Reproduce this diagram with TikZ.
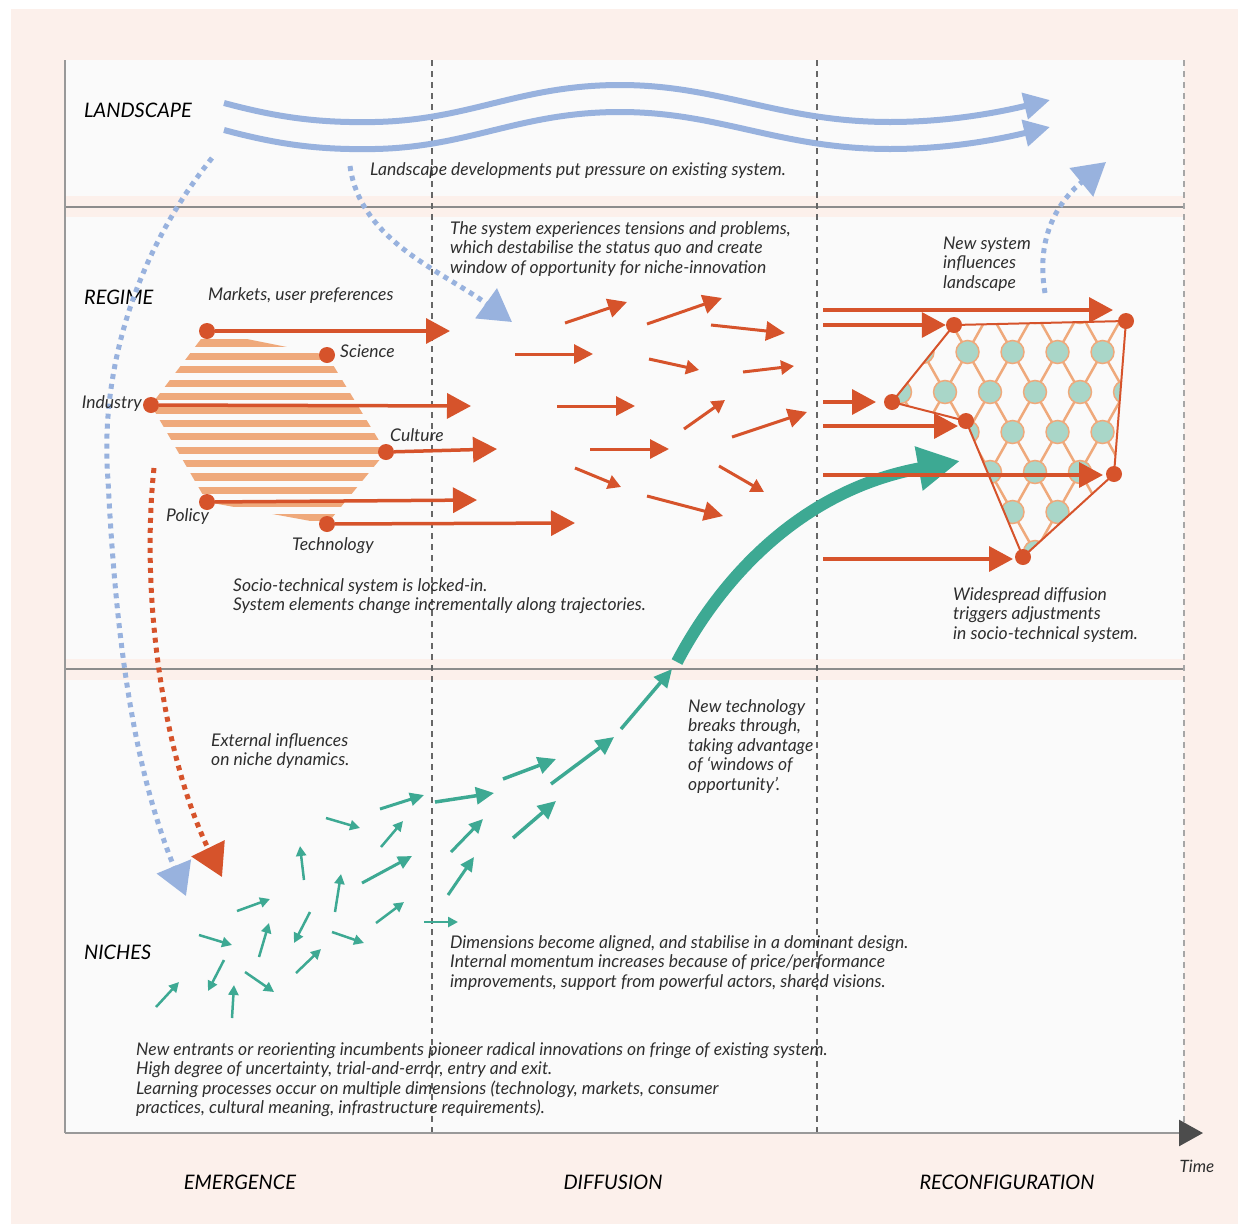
\documentclass[tikz,border=0pt]{standalone}
\usepackage{fontspec}
\setmainfont{Lato}
\usepackage{tikz}
\usetikzlibrary{arrows.meta,positioning,calc}

\definecolor{rust}{HTML}{D6532B}
\definecolor{peach}{HTML}{EFA97B}
\definecolor{skyblue}{HTML}{98B2DE}
\definecolor{seagreen}{HTML}{3DA993}
\definecolor{mint}{HTML}{A9D6C8}
\definecolor{blush}{HTML}{FCF0EB}
\definecolor{paper}{HTML}{FAFAFA}
\definecolor{ink}{HTML}{2E2E2E}

\tikzset{
  notetext/.style={anchor=base west, inner sep=0pt, align=left, text=ink, font=\fontsize{17.5}{19.5}\selectfont\itshape},
  levellabel/.style={anchor=base west, inner sep=0pt, text=black, font=\fontsize{20}{22}\selectfont\itshape},
  phaselabel/.style={inner sep=0pt, text=black, font=\fontsize{20}{22}\selectfont\itshape},
  rdot/.style={circle, fill=rust, inner sep=0pt, minimum size=16pt},
  bigred/.style={draw=rust, line width=3.5pt, -{Triangle[length=24pt,width=25pt]}},
  midred/.style={draw=rust, line width=3pt, -{Triangle[length=19pt,width=19pt]}},
  smallred/.style={draw=rust, line width=3pt, -{Triangle[length=13pt,width=14pt]}},
  bigteal/.style={draw=seagreen, line width=3.5pt, -{Triangle[length=18pt,width=17pt]}},
  midteal/.style={draw=seagreen, line width=3pt, -{Triangle[length=14pt,width=13pt]}},
  smallteal/.style={draw=seagreen, line width=2.5pt, -{Triangle[length=10pt,width=10pt]}},
  surge/.style={draw=seagreen, line width=12pt, -{Triangle[length=42pt,width=42pt]}},
  landwave/.style={draw=skyblue, line width=6pt, -{Triangle[length=26pt,width=26pt]}},
  bluedots/.style={draw=skyblue, line width=5pt, dash pattern=on 5pt off 5pt, -{Triangle[length=32pt,width=36pt]}},
  reddots/.style={draw=rust, line width=5pt, dash pattern=on 5pt off 5pt, -{Triangle[length=32pt,width=36pt]}},
  phaseline/.style={draw=black!60, line width=1.2pt, dash pattern=on 6pt off 5pt},
  lattice/.style={draw=peach, line width=2.5pt},
}

\begin{document}
\begin{tikzpicture}[x=1pt, y=-1pt]
\useasboundingbox (0,0) rectangle (1238,1224);
\fill[white] (0,0) rectangle (1238,1224);
\fill[blush] (11,9) rectangle (1238,1224);
\fill[paper] (65,60) rectangle (1184,1133);
\fill[blush] (65,196) rectangle (1184,217);
\fill[blush] (65,659) rectangle (1184,680);
\draw[black!45, line width=1.5pt] (65,207) -- (1184,207);
\draw[black!45, line width=1.5pt] (65,669) -- (1184,669);

\draw[phaseline] (432,60) -- (432,1133);
\draw[phaseline] (817,60) -- (817,1133);
\draw[phaseline, draw=black!35] (1184,60) -- (1184,1133);

\coordinate (topleft) at (65,60);
\coordinate (origin) at (65,1133);
\coordinate (timeend) at (1203,1133);
\draw[black!40, line width=2pt] (topleft) -- (origin);
\draw[black!40, line width=2.5pt, -{Triangle[length=24pt,width=26pt,color=black!70]}] (origin) -- (timeend);
\node[inner sep=0pt, text=ink, font=\fontsize{17}{19}\selectfont\itshape] (time) at (1197,1166) {Time};

\node[phaselabel] (emergence) at (240,1182) {EMERGENCE};
\node[phaselabel] (diffusion) at (613,1182) {DIFFUSION};
\node[phaselabel] (reconfig) at (1007,1182) {RECONFIGURATION};

\node[levellabel] (landscape) at (84,117) {LANDSCAPE};
\node[levellabel] (regime) at (84,304) {REGIME};
\node[levellabel] (niches) at (84,959) {NICHES};

\node[notetext] (pressure) at (370,175) {Landscape developments put pressure on existing system.};
\node[notetext] (tensions) at (450,273) {The system experiences tensions and problems,\\which destabilise the status quo and create\\window of opportunity for niche-innovation};
\node[notetext] (newsystem) at (943,288) {New system\\influences\\landscape};
\node[notetext] (markets) at (208,300) {Markets, user preferences};
\node[notetext] (lockedin) at (233,610.5) {Socio-technical system is locked-in.\\System elements change incrementally along trajectories.};
\node[notetext] (widespread) at (953,639) {Widespread diffusion\\triggers adjustments\\in socio-technical system.};
\node[notetext] (external) at (211,765.5) {External influences\\on niche dynamics.};
\node[notetext] (breaks) at (688,790) {New technology\\breaks through,\\taking advantage\\of ‘windows of\\opportunity’.};
\node[notetext] (aligned) at (450,987) {Dimensions become aligned, and stabilise in a dominant design.\\Internal momentum increases because of price/performance\\improvements, support from powerful actors, shared visions.};
\node[notetext] (entrants) at (136,1113.5) {New entrants or reorienting incumbents pioneer radical innovations on fringe of existing system.\\High degree of uncertainty, trial-and-error, entry and exit.\\Learning processes occur on multiple dimensions (technology, markets, consumer\\practices, cultural meaning, infrastructure requirements).};

\coordinate (wa1) at (224,103);
\coordinate (wa2) at (375,122);
\coordinate (wa3) at (620,85);
\coordinate (wa4) at (890,122);
\coordinate (wa5) at (1050,100);
\draw[landwave] (wa1) .. controls (280,118) and (320,123) .. (wa2) .. controls (470,120) and (520,85) .. (wa3) .. controls (720,85) and (780,122) .. (wa4) .. controls (950,122) and (1000,112) .. (wa5);
\coordinate (wb1) at (224,130);
\coordinate (wb2) at (375,149);
\coordinate (wb3) at (620,112);
\coordinate (wb4) at (890,149);
\coordinate (wb5) at (1050,127);
\draw[landwave] (wb1) .. controls (280,145) and (320,150) .. (wb2) .. controls (470,147) and (520,112) .. (wb3) .. controls (720,112) and (780,149) .. (wb4) .. controls (950,149) and (1000,139) .. (wb5);

\coordinate (hm) at (207,331);
\coordinate (hs) at (327,355);
\coordinate (hc) at (386,452);
\coordinate (ht) at (327,524);
\coordinate (hp) at (207,502);
\coordinate (hi) at (151,405);
\begin{scope}
  \clip (hm) -- (hs) -- (hc) -- (ht) -- (hp) -- (hi) -- cycle;
  \foreach \k in {-1,...,14}
    \fill[peach] (140,{343+13.4*\k-3.6}) rectangle (400,{343+13.4*\k+3.6});
\end{scope}

\coordinate (pnw) at (954,325);
\coordinate (pne) at (1126,321);
\coordinate (pse) at (1114,474);
\coordinate (ps) at (1023,557);
\coordinate (pin) at (966,421);
\coordinate (pw) at (892,402);
\begin{scope}
  \clip (pnw) -- (pne) -- (pse) -- (ps) -- (pin) -- (pw) -- cycle;
  \foreach \r in {0,...,6}
    \foreach \c in {-1,...,6} {
      \pgfmathsetmacro\hx{900+45*\c+22.5*mod(\r,2)}
      \pgfmathsetmacro\hy{312+40*\r}
      \draw[lattice] (\hx,\hy) -- ++(22.5,40) (\hx,\hy) -- ++(-22.5,40);
    }
  \foreach \r in {0,...,7}
    \foreach \c in {-1,...,6} {
      \pgfmathsetmacro\hx{900+45*\c+22.5*mod(\r,2)}
      \pgfmathsetmacro\hy{312+40*\r}
      \filldraw[fill=mint, draw=peach, line width=1.5pt] (\hx,\hy) circle (11.5);
    }
\end{scope}
\draw[rust, line width=2pt] (pnw) -- (pne) -- (pse) -- (ps) -- (pin) -- (pw) -- cycle;

\coordinate (bigstart) at (212,158);
\coordinate (bigmid) at (108,480);
\coordinate (bigtip) at (186,896);
\draw[bluedots] (bigstart) .. controls (130,260) and (100,380) .. (bigmid) .. controls (115,620) and (130,760) .. (bigtip);
\coordinate (pressstart) at (350,166);
\coordinate (presstip) at (512,322);
\draw[bluedots] (pressstart) .. controls (360,240) and (440,270) .. (presstip);
\coordinate (feedstart) at (1045,293);
\coordinate (feedtip) at (1106,162);
\draw[bluedots] (feedstart) .. controls (1035,235) and (1060,200) .. (feedtip);
\coordinate (regstart) at (154,468);
\coordinate (regtip) at (222,877);
\draw[reddots] (regstart) .. controls (140,600) and (165,760) .. (regtip);

\foreach \xa/\ya/\xb/\yb [count=\i] in {565/323/627/302, 647/324/722/298, 711/325/785/333, 515/354/593/354, 557/406/635/406, 732/437/807/412, 590/449/669/449, 647/496/723/516} {
  \coordinate (fa\i) at (\xa,\ya);
  \coordinate (fb\i) at (\xb,\yb);
  \draw[midred] (fa\i) -- (fb\i);
}
\foreach \xa/\ya/\xb/\yb [count=\i] in {649/359/699/370, 743/372/794/366, 684/429/725/400, 575/468/621/487, 719/466/764/492} {
  \coordinate (ga\i) at (\xa,\ya);
  \coordinate (gb\i) at (\xb,\yb);
  \draw[smallred] (ga\i) -- (gb\i);
}

\foreach \xa/\ya/\xb/\yb [count=\i] in {435/802/494/793, 503/779/556/759, 551/784/614/737, 513/838/556/801, 621/729/672/669} {
  \coordinate (ta\i) at (\xa,\ya);
  \coordinate (tb\i) at (\xb,\yb);
  \draw[bigteal] (ta\i) -- (tb\i);
}
\foreach \xa/\ya/\xb/\yb [count=\i] in {380/809/424/795, 362/883/412/856, 451/852/483/819, 448/895/474/857} {
  \coordinate (ua\i) at (\xa,\ya);
  \coordinate (ub\i) at (\xb,\yb);
  \draw[midteal] (ua\i) -- (ub\i);
}
\foreach \xa/\ya/\xb/\yb [count=\i] in {326/818/360/828, 381/847/403/821, 304/880/300/846, 237/911/270/899, 335/912/341/874, 376/923/404/902, 424/922/458/922, 199/935/232/945, 310/912/294/943, 332/932/364/943, 259/957/269/923, 296/973/321/949, 224/960/208/991, 245/972/274/992, 156/1007/179/982, 232/1018/234/985} {
  \coordinate (va\i) at (\xa,\ya);
  \coordinate (vb\i) at (\xb,\yb);
  \draw[smallteal] (va\i) -- (vb\i);
}

\coordinate (surgestart) at (677,662);
\coordinate (surgetip) at (960,461);
\draw[surge] (surgestart) .. controls (720,580) and (800,490) .. (surgetip);

\node[rdot] (mkt) at (hm) {};
\node[rdot] (sci) at (hs) {};
\node[rdot] (cul) at (hc) {};
\node[rdot] (tec) at (ht) {};
\node[rdot] (pol) at (hp) {};
\node[rdot] (ind) at (hi) {};
\node[notetext] (scilabel) at (340,357) {Science};
\node[notetext, anchor=base east] (indlabel) at (142,408) {Industry};
\node[notetext] (cullabel) at (390,441) {Culture};
\node[notetext] (pollabel) at (166,521) {Policy};
\node[notetext] (teclabel) at (292,550) {Technology};

\coordinate (mktend) at (450,331);
\coordinate (indend) at (471,406);
\coordinate (culend) at (497,449);
\coordinate (polend) at (477,500);
\coordinate (tecend) at (575,523);
\draw[bigred] (mkt) -- (mktend);
\draw[bigred] (ind) -- (indend);
\draw[bigred] (cul) -- (culend);
\draw[bigred] (pol) -- (polend);
\draw[bigred] (tec) -- (tecend);

\node[rdot] (netnw) at (pnw) {};
\node[rdot] (netne) at (pne) {};
\node[rdot] (netse) at (pse) {};
\node[rdot] (netsouth) at (ps) {};
\node[rdot] (netinner) at (pin) {};
\node[rdot] (netwest) at (pw) {};

\coordinate (ra1) at (823,310);
\coordinate (ra2) at (823,325);
\coordinate (ra3) at (823,402);
\coordinate (ra4) at (823,426);
\coordinate (ra5) at (823,475);
\coordinate (ra6) at (823,559);
\coordinate (rb1) at (1113,310);
\coordinate (rb3) at (876,402);
\coordinate (rb4) at (958,426);
\coordinate (rb5) at (1103,475);
\coordinate (rb6) at (1013,559);
\draw[bigred] (ra1) -- (rb1);
\draw[bigred] (ra2) -- (netnw);
\draw[bigred] (ra3) -- (rb3);
\draw[bigred] (ra4) -- (rb4);
\draw[bigred] (ra5) -- (rb5);
\draw[bigred] (ra6) -- (rb6);
\end{tikzpicture}
\end{document}
